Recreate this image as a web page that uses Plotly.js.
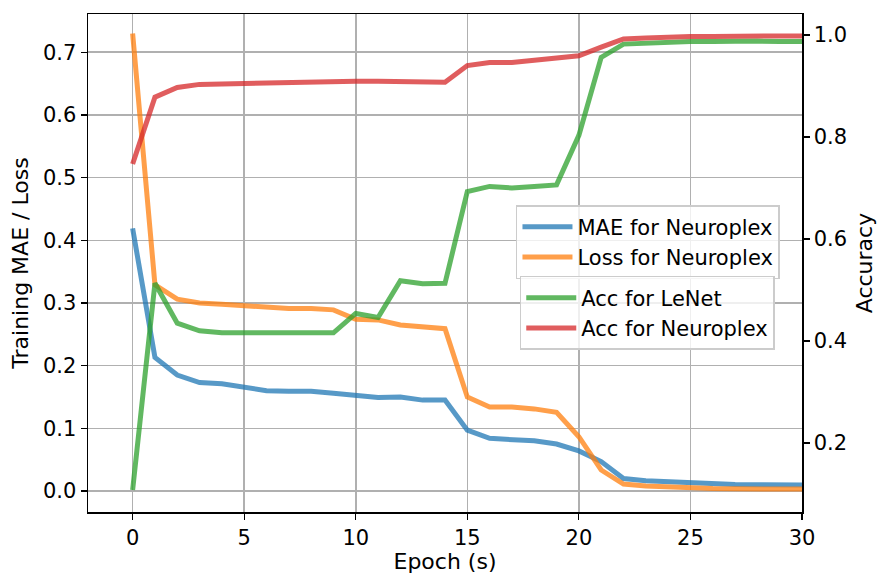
<!DOCTYPE html>
<html>
<head>
<meta charset="utf-8">
<script src="https://cdn.plot.ly/plotly-3.0.1.min.js"></script>
<style>html,body{margin:0;padding:0;background:#fff;}#chart{width:881px;height:574px;}</style>
</head>
<body>
<div id="chart"></div>
<script>
const epochs = [0,1,2,3,4,5,6,7,8,9,10,11,12,13,14,15,16,17,18,19,20,21,22,23,24,25,26,27,28,29,30];
const maeNeuroplex = [0.419,0.213,0.185,0.173,0.171,0.1665,0.160,0.159,0.159,0.156,0.152,0.149,0.150,0.145,0.145,0.097,0.084,0.083,0.080,0.075,0.064,0.047,0.020,0.0165,0.015,0.012,0.011,0.0105,0.010,0.0098,0.0096];
const lossNeuroplex = [0.730,0.329,0.306,0.300,0.298,0.296,0.292,0.291,0.291,0.289,0.274,0.273,0.265,0.262,0.259,0.150,0.134,0.134,0.131,0.1255,0.0866,0.0335,0.011,0.008,0.006,0.0045,0.004,0.0035,0.0033,0.003,0.003];
const accLeNet = [0.108,0.513,0.435,0.420,0.416,0.415,0.416,0.416,0.416,0.416,0.454,0.446,0.518,0.512,0.513,0.693,0.703,0.700,0.703,0.706,0.803,0.956,0.982,0.984,0.986,0.987,0.987,0.988,0.988,0.987,0.987];
const accNeuroplex = [0.747,0.878,0.897,0.903,0.904,0.905,0.907,0.908,0.908,0.909,0.909,0.909,0.908,0.908,0.907,0.940,0.946,0.946,0.950,0.953,0.959,0.976,0.992,0.994,0.996,0.997,0.997,0.998,0.998,0.998,0.998];
const seriesNames = ['MAE for Neuroplex','Loss for Neuroplex','Acc for LeNet','Acc for Neuroplex'];
const xTicks = [0,5,10,15,20,25,30];
const yTicks = [0,0.1,0.2,0.3,0.4,0.5,0.6,0.7];
const y2Ticks = [0.2,0.4,0.6,0.8,1.0];

const font = 'DejaVu Sans, sans-serif';
const LW = 5;
const traces = [
  {x: epochs, y: maeNeuroplex, name: seriesNames[0], type:'scatter', mode:'lines', line:{color:'rgba(31,119,180,0.75)', width:LW}, yaxis:'y', legend:'legend'},
  {x: epochs, y: lossNeuroplex, name: seriesNames[1], type:'scatter', mode:'lines', line:{color:'rgba(255,127,14,0.75)', width:LW}, yaxis:'y', legend:'legend'},
  {x: epochs, y: accLeNet, name: seriesNames[2], type:'scatter', mode:'lines', line:{color:'rgba(44,160,44,0.75)', width:LW}, yaxis:'y2', legend:'legend2'},
  {x: epochs, y: accNeuroplex, name: seriesNames[3], type:'scatter', mode:'lines', line:{color:'rgba(214,39,40,0.75)', width:LW}, yaxis:'y2', legend:'legend2'}
];

const tickFont = {family: font, size: 21, color: '#000'};
const titleFont = {family: font, size: 22, color: '#000'};
const legendCommon = {
  xanchor: 'left', yanchor: 'top',
  bgcolor: 'rgba(255,255,255,0.8)', bordercolor: '#cccccc', borderwidth: 1.5,
  font: {family: font, size: 21, color: '#000'},
  itemwidth: 50
};

const layout = {
  width: 881, height: 574,
  margin: {l: 88, r: 79, t: 14, b: 62},
  paper_bgcolor: '#fff', plot_bgcolor: '#fff',
  font: {family: font, size: 21, color: '#000'},
  showlegend: true,
  xaxis: {
    range: [-2.0, 30], tickvals: xTicks, ticktext: xTicks.map(String),
    tickfont: tickFont,
    showgrid: true, gridcolor: '#b0b0b0', gridwidth: 1.5,
    showline: true, linecolor: '#000', linewidth: 1.5, mirror: true,
    ticks: 'outside', ticklen: 6, tickwidth: 1.2, tickcolor: '#000',
    zeroline: false,
    title: {text: 'Epoch (s)', font: titleFont, standoff: 4}
  },
  yaxis: {
    range: [-0.0335, 0.761], tickvals: yTicks, ticktext: yTicks.map(v => v.toFixed(1)),
    tickfont: tickFont,
    showgrid: true, gridcolor: '#b0b0b0', gridwidth: 1.5,
    showline: true, linecolor: '#000', linewidth: 1.5,
    ticks: 'outside', ticklen: 6, tickwidth: 1.2, tickcolor: '#000',
    zeroline: false,
    title: {text: 'Training MAE / Loss', font: titleFont, standoff: 8}
  },
  yaxis2: {
    overlaying: 'y', side: 'right',
    range: [0.0647, 1.041], tickvals: y2Ticks, ticktext: y2Ticks.map(v => v.toFixed(1)),
    tickfont: tickFont,
    showgrid: false,
    showline: true, linecolor: '#000', linewidth: 1.5,
    ticks: 'outside', ticklen: 6, tickwidth: 1.2, tickcolor: '#000',
    zeroline: false,
    title: {text: 'Accuracy', font: titleFont, standoff: 10}
  },
  legend: Object.assign({x: 0.5994, y: 0.6164}, legendCommon),
  legend2: Object.assign({x: 0.6047, y: 0.4739}, legendCommon)
};

Plotly.newPlot('chart', traces, layout, {displayModeBar: false, staticPlot: true});
</script>
</body>
</html>
